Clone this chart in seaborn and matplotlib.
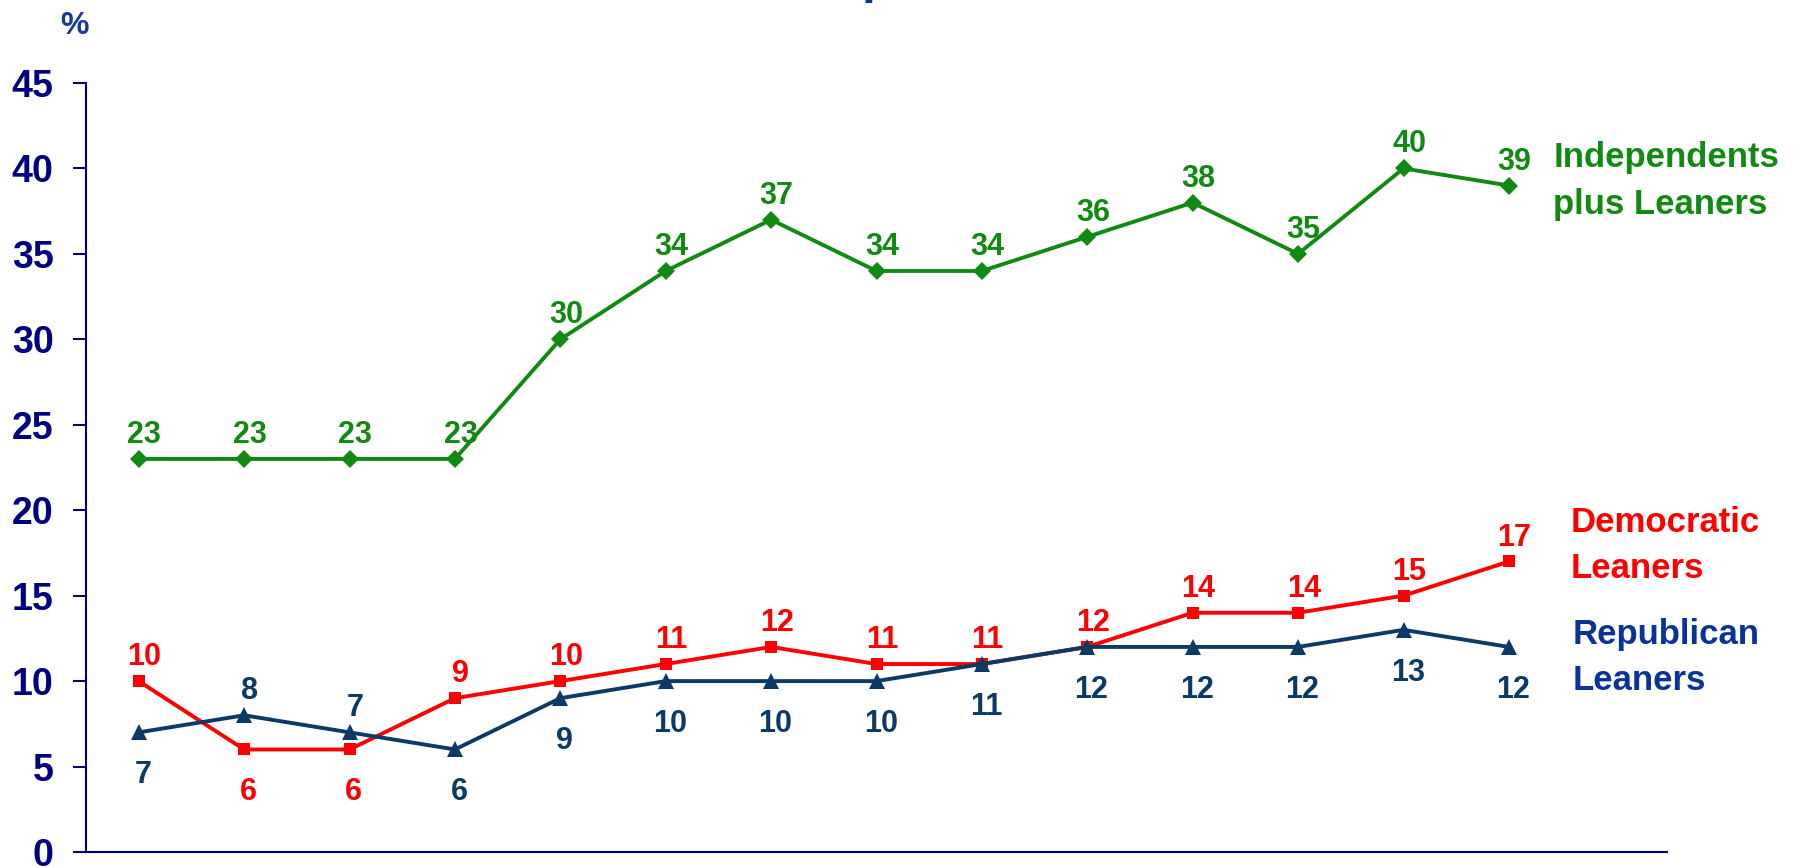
import numpy as np
import pandas as pd
import matplotlib.pyplot as plt
import seaborn as sns

# values, one point per survey wave (x labels not shown)
independents = [23, 23, 23, 23, 30, 34, 37, 34, 34, 36, 38, 35, 40, 39]
democratic = [10, 6, 6, 9, 10, 11, 12, 11, 11, 12, 14, 14, 15, 17]
republican = [7, 8, 7, 6, 9, 10, 10, 10, 11, 12, 12, 12, 13, 12]
y_ticks = [0, 5, 10, 15, 20, 25, 30, 35, 40, 45]

# which labels sit on the "other" side of their point
dem_below = {1, 2}
rep_above = {1, 2}

GREEN = "#118a11"
RED = "#ff0000"
NAVY = "#0b3a66"
REP_TEXT = "#0a3399"
AXIS = "#000080"

sns.set_style("white")
plt.rcParams["font.family"] = ["Liberation Sans", "DejaVu Sans"]
plt.rcParams["font.weight"] = "bold"

df = pd.DataFrame(
    {
        "wave": np.arange(len(independents)),
        "independents": independents,
        "democratic": democratic,
        "republican": republican,
    }
)

fig = plt.figure(figsize=(18.03, 8.67), dpi=100)
ax = fig.add_axes([86 / 1803, 15 / 867, (1667 - 86) / 1803, (852 - 83) / 867])

line_kw = dict(linewidth=2.8, markeredgewidth=0)
sns.lineplot(data=df, x="wave", y="independents", ax=ax, color=GREEN,
             marker="D", markersize=9.5, **line_kw)
sns.lineplot(data=df, x="wave", y="democratic", ax=ax, color=RED,
             marker="s", markersize=8.5, **line_kw)
sns.lineplot(data=df, x="wave", y="republican", ax=ax, color=NAVY,
             marker="^", markersize=11, **line_kw)


def label_points(col, color, below=()):
    for i, v in enumerate(df[col]):
        if i in below:
            ax.annotate(str(v), (df["wave"][i], v), xytext=(3, -20),
                        textcoords="offset points", ha="center", va="top",
                        fontsize=22, color=color, fontweight="bold")
        else:
            ax.annotate(str(v), (df["wave"][i], v), xytext=(4, 11.5),
                        textcoords="offset points", ha="center", va="baseline",
                        fontsize=22, color=color, fontweight="bold")


label_points("independents", GREEN)
label_points("democratic", RED, below=dem_below)
rep_below = [i for i in range(len(republican)) if i not in rep_above]
label_points("republican", NAVY, below=rep_below)

# series names at the right end
ax.text(13.42, 39.25, "Independents\nplus Leaners", color=GREEN, fontsize=25,
        fontweight="bold", ha="left", va="center", linespacing=1.55, clip_on=False)
ax.text(13.59, 17.95, "Democratic\nLeaners", color=RED, fontsize=25,
        fontweight="bold", ha="left", va="center", linespacing=1.5, clip_on=False)
ax.text(13.6, 11.4, "Republican\nLeaners", color=REP_TEXT, fontsize=25,
        fontweight="bold", ha="left", va="center", linespacing=1.5, clip_on=False)

ax.set_xlim(-0.5, 14.5)
ax.set_ylim(0, 45)
ax.set_yticks(y_ticks)
ax.set_xticks([])
ax.set_xlabel("")
ax.set_ylabel("")
ax.tick_params(axis="y", direction="out", length=9.4, width=1.5, color=AXIS,
               labelsize=27, labelcolor=AXIS, pad=14, left=True)
for lab in ax.get_yticklabels():
    lab.set_fontweight("bold")
for s in ["top", "right"]:
    ax.spines[s].set_visible(False)
for s in ["left", "bottom"]:
    ax.spines[s].set_color(AXIS)
    ax.spines[s].set_linewidth(1.5)

fig.text(60 / 1803, 1 - 11 / 867, "%", color="#1a3a99", fontsize=23,
         fontweight="bold", ha="left", va="top")
# bottom of the cut-off title peeking in at the top edge
fig.text(862 / 1803, 1 + 6.5 / 867, "p", color=REP_TEXT, fontsize=36,
         fontweight="bold", ha="left", va="baseline")

fig.savefig("out.png", dpi=100)
